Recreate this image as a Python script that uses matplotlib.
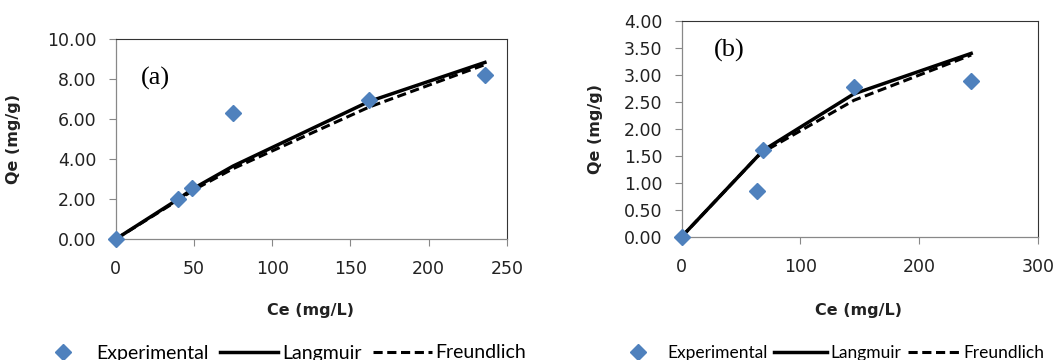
import matplotlib
matplotlib.use("Agg")
import matplotlib.pyplot as plt

# panel (a)
ce_a = [0, 40, 49, 75, 162, 236]
qe_exp_a = [0.0, 2.0, 2.55, 6.28, 6.97, 8.2]
qe_lang_a = [0.0, 2.0, 2.5, 3.65, 6.88, 8.83]
qe_freu_a = [0.0, 1.95, 2.42, 3.52, 6.6, 8.72]

# panel (b)
ce_b = [0, 63.4, 68.5, 145, 243.7]
qe_exp_b = [0.0, 0.85, 1.6, 2.77, 2.89]
qe_lang_b = [0.0, 1.48, 1.6, 2.65, 3.4]
qe_freu_b = [0.0, 1.48, 1.57, 2.53, 3.37]

blue = "#4F81BD"
tick_font = 12.5


def draw_panel(ax, ce, qe_exp, qe_lang, qe_freu, xmax, xstep, ymax, ystep, tag, tag_xy, ylab_x, xlab_y):
    h1, = ax.plot(ce, qe_exp, linestyle="none", marker="D", markersize=8,
                  color=blue, zorder=5, clip_on=False)
    h2, = ax.plot(ce, qe_lang, color="black", linewidth=2.5, zorder=4)
    h3, = ax.plot(ce, qe_freu, color="black", linewidth=2.2, linestyle=(0, (3, 1.5)), zorder=3)

    ax.set_xlim(0, xmax)
    ax.set_ylim(0, ymax)
    ax.set_xticks(range(0, xmax + 1, xstep))
    yt = [i * ystep for i in range(int(round(ymax / ystep)) + 1)]
    ax.set_yticks(yt)
    ax.set_yticklabels(["%.2f" % v for v in yt])

    ax.tick_params(axis="both", direction="out", length=5, width=0.8,
                   color="#888888", labelsize=tick_font, labelcolor="#222222")
    ax.tick_params(axis="x", pad=10)
    ax.tick_params(axis="y", pad=9)
    for s in ["left", "bottom"]:
        ax.spines[s].set_color("#888888")
        ax.spines[s].set_linewidth(0.9)
    for s in ["top", "right"]:
        ax.spines[s].set_color("#333333")
        ax.spines[s].set_linewidth(0.8)

    ax.set_ylabel("Qe (mg/g)", fontsize=11.5, fontweight="bold", color="#222222")
    ax.set_xlabel("Ce (mg/L)", fontsize=11.5, fontweight="bold", color="#222222")
    ax.yaxis.set_label_coords(ylab_x, 0.5)
    ax.xaxis.set_label_coords(0.497, xlab_y)

    ax.text(tag_xy[0], tag_xy[1], tag, transform=ax.transAxes, fontsize=19,
            family="Liberation Serif", va="center", ha="left")
    return h1, h2, h3


fig = plt.figure(figsize=(10.53, 3.6), dpi=100)
ax_a = fig.add_axes([0.110, 0.336, 0.3713, 0.5556])
ax_b = fig.add_axes([0.6474, 0.3425, 0.3384, 0.599])

ha = draw_panel(ax_a, ce_a, qe_exp_a, qe_lang_a, qe_freu_a, 250, 50, 10.0, 2.0,
                "(a)", (0.065, 0.805), -0.243, -0.32)
hb = draw_panel(ax_b, ce_b, qe_exp_b, qe_lang_b, qe_freu_b, 300, 100, 4.0, 0.5,
                "(b)", (0.09, 0.865), -0.221, -0.307)

labels = ["Experimental", "Langmuir", "Freundlich"]
fig.legend(ha, labels, loc="center", bbox_to_anchor=(280 / 1053, 1 - 353 / 360),
           ncol=3, frameon=False, prop={"family": "Lato", "size": 14},
           handlelength=3.0, handletextpad=0.2, columnspacing=0.6)
fig.legend(hb, labels, loc="center", bbox_to_anchor=(828 / 1053, 1 - 353 / 360),
           ncol=3, frameon=False, prop={"family": "Lato", "size": 12.5},
           handlelength=3.0, handletextpad=0.2, columnspacing=0.4)

fig.savefig("out.png", dpi=100)
